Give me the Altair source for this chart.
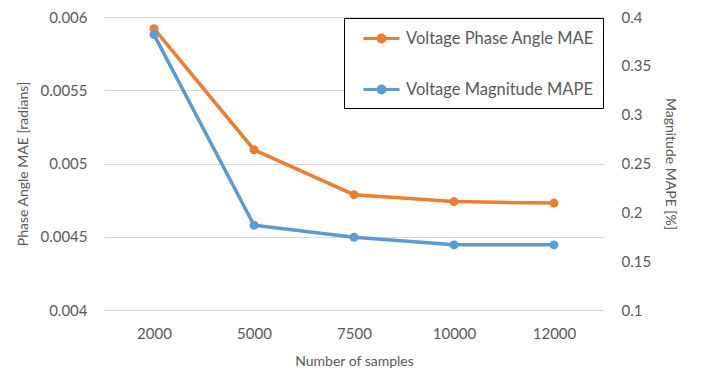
import altair as alt
import pandas as pd

samples = ["2000", "5000", "7500", "10000", "12000"]
phase_mae = [0.00592, 0.005094, 0.004787, 0.00474, 0.00473]
mag_mape = [0.382, 0.1868, 0.1745, 0.1667, 0.1667]
series_names = ["Voltage Phase Angle MAE", "Voltage Magnitude MAPE"]
colors = ["#ED7D31", "#5B9BD5"]

df1 = pd.DataFrame({"samples": samples, "value": phase_mae, "series": series_names[0]})
df2 = pd.DataFrame({"samples": samples, "value": mag_mape, "series": series_names[1]})

FONT = "Lato"
GRAY = "#595959"

x_enc = alt.X(
    "samples:O",
    sort=samples,
    scale=alt.Scale(type="point", padding=0.5),
    axis=alt.Axis(title="Number of samples", labelAngle=0, domain=False, ticks=False,
                  labelPadding=16, titlePadding=13, grid=False),
)
color_enc = alt.Color(
    "series:N",
    scale=alt.Scale(domain=series_names, range=colors),
    legend=alt.Legend(
        title=None, orient="none", legendX=240, legendY=1,
        symbolType="M-1.8,0H1.8M-0.35,0a0.35,0.35 0 1,0 0.7,0a0.35,0.35 0 1,0 -0.7,0M-0.15,0a0.15,0.15 0 1,0 0.3,0a0.15,0.15 0 1,0 -0.3,0",
        symbolSize=400, symbolStrokeWidth=3, symbolFillColor="transparent",
        symbolOffset=17,
        labelFontSize=16.5, labelFont=FONT, labelColor=GRAY, labelLimit=400,
        rowPadding=30, padding=9, strokeColor="#000000", fillColor="#ffffff",
        labelOffset=13,
    ),
)

left = alt.Chart(df1).mark_line(point=alt.OverlayMarkDef(size=80, filled=True), strokeWidth=3.5).encode(
    x=x_enc,
    y=alt.Y("value:Q", scale=alt.Scale(domain=[0.004, 0.006], nice=False),
            axis=alt.Axis(title="Phase Angle MAE [radians]", values=[0.004, 0.0045, 0.005, 0.0055, 0.006],
                          format="~g", domain=False, ticks=False, labelPadding=17, titlePadding=9,
                          grid=True, gridColor="#d9d9d9")),
    color=color_enc,
)

right = alt.Chart(df2).mark_line(point=alt.OverlayMarkDef(size=80, filled=True), strokeWidth=3.5).encode(
    x=x_enc,
    y=alt.Y("value:Q", scale=alt.Scale(domain=[0.1, 0.4], nice=False),
            axis=alt.Axis(title="Magnitude MAPE [%]", orient="right",
                          values=[0.1, 0.15, 0.2, 0.25, 0.3, 0.35, 0.4],
                          format="~g", domain=False, ticks=False, labelPadding=17, titlePadding=12,
                          grid=False)),
    color=color_enc,
)

chart = alt.layer(left, right).resolve_scale(y="independent").properties(
    width=500, height=293,
    background="#ffffff",
    autosize=alt.AutoSizeParams(type="none"),
    padding={"left": 104, "top": 17, "right": 98, "bottom": 63},
).configure_view(stroke=None).configure_axis(
    labelFont=FONT, labelFontSize=15, labelColor=GRAY,
    titleFont=FONT, titleFontSize=14, titleColor=GRAY, titleFontWeight="normal",
)

chart.save("out.html", embed_options={"renderer": "svg", "actions": False})
